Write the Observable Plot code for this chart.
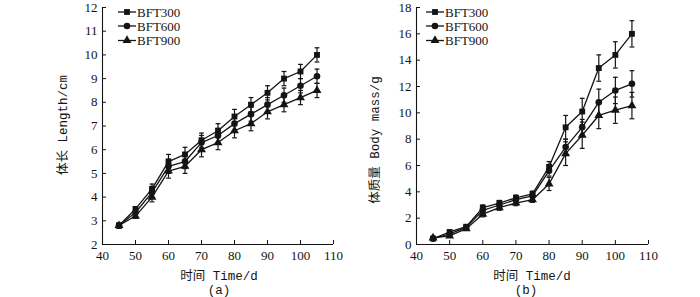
<!DOCTYPE html>
<html><head><meta charset="utf-8">
<script src="https://cdn.jsdelivr.net/npm/d3@7"></script>
<script src="https://cdn.jsdelivr.net/npm/@observablehq/plot@0.6"></script>
<style>
body{margin:0;background:#fff;}
#wrap{display:flex;width:700px;height:297px;overflow:hidden;}
#wrap svg{display:block;}
</style></head><body><div id="wrap"></div>
<script>
// ---- data ----
const days = [45, 50, 55, 60, 65, 70, 75, 80, 85, 90, 95, 100, 105];
const seriesNames = ["BFT300", "BFT600", "BFT900"];
const xTicks = [40, 50, 60, 70, 80, 90, 100, 110];

// (a) body length, cm
const lengthBFT300 = [2.8, 3.5, 4.35, 5.5, 5.8, 6.4, 6.8, 7.4, 7.9, 8.4, 9.0, 9.3, 10.0];
const lengthBFT600 = [2.8, 3.35, 4.2, 5.3, 5.5, 6.3, 6.6, 7.1, 7.5, 7.9, 8.3, 8.7, 9.1];
const lengthBFT900 = [2.8, 3.2, 4.0, 5.1, 5.3, 6.0, 6.3, 6.8, 7.1, 7.6, 7.9, 8.2, 8.5];
const lengthErr300 = [0.1, 0.1, 0.2, 0.3, 0.3, 0.3, 0.3, 0.3, 0.3, 0.3, 0.3, 0.3, 0.3];
const lengthErr600 = [0.1, 0.1, 0.2, 0.3, 0.3, 0.3, 0.3, 0.3, 0.3, 0.3, 0.3, 0.3, 0.3];
const lengthErr900 = [0.1, 0.1, 0.2, 0.3, 0.3, 0.3, 0.3, 0.3, 0.3, 0.3, 0.3, 0.3, 0.3];
const lengthTicks = [2, 3, 4, 5, 6, 7, 8, 9, 10, 11, 12];

// (b) body mass, g
const massBFT300 = [0.45, 0.95, 1.35, 2.8, 3.15, 3.55, 3.85, 5.9, 8.9, 10.1, 13.4, 14.4, 16.0];
const massBFT600 = [0.45, 0.8, 1.3, 2.6, 3.0, 3.4, 3.7, 5.6, 7.4, 8.9, 10.8, 11.7, 12.2];
const massBFT900 = [0.5, 0.65, 1.2, 2.3, 2.8, 3.15, 3.4, 4.6, 6.9, 8.3, 9.8, 10.2, 10.55];
const massErr300 = [0.1, 0.15, 0.15, 0.2, 0.2, 0.2, 0.2, 0.4, 0.9, 1.0, 1.0, 1.0, 1.0];
const massErr600 = [0.1, 0.15, 0.15, 0.2, 0.2, 0.2, 0.2, 0.4, 0.6, 0.6, 1.0, 1.0, 1.0];
const massErr900 = [0.1, 0.1, 0.1, 0.2, 0.2, 0.2, 0.2, 0.5, 0.9, 1.0, 1.0, 1.0, 1.0];
const massTicks = [0, 2, 4, 6, 8, 10, 12, 14, 16, 18];

// ---- helpers ----
const INK = "#141414";
const NUM_FONT = "'Liberation Serif', 'Times New Roman', serif";
const LABEL_FONT = "'Liberation Mono', 'Noto Sans CJK SC', monospace";
const symbols = ["square", "circle", "triangle"];
const d3Symbols = [d3.symbolSquare, d3.symbolCircle, d3.symbolTriangle];
const R = 3.3;
const cap = {draw(ctx, size) { const w = Math.sqrt(size / Math.PI); ctx.moveTo(-w, 0); ctx.lineTo(w, 0); }};

function rowsOf(vals, errs) {
  return seriesNames.flatMap((s, i) => days.map((d, j) => ({day: d, series: s, value: vals[i][j], err: errs[i][j]})));
}

function panel({rows, yDomain, yTicks, yLabel, tag, legendX, yLabelPos, xLabelX, tagX}) {
  const W = 350, H = 297;
  const opts = {
    width: W, height: H,
    marginLeft: yLabelPos.ml, marginRight: yLabelPos.mr, marginTop: 7, marginBottom: 53,
    x: {domain: [40, 110]},
    y: {domain: yDomain},
    symbol: {domain: seriesNames, range: symbols},
    style: {fontFamily: NUM_FONT, fontSize: "13px", color: INK, background: "white", overflow: "visible"},
    marks: [
      Plot.axisX({ticks: xTicks, tickSize: -4, tickPadding: 10, label: null, fontSize: 13}),
      Plot.axisY({ticks: yTicks, tickSize: -4, tickPadding: 9, label: null, fontSize: 13}),
      Plot.ruleX([40], {stroke: INK, strokeWidth: 1.1}),
      Plot.ruleY([yDomain[0]], {stroke: INK, strokeWidth: 1.1}),
      Plot.ruleX(rows, {x: "day", y1: d => d.value - d.err, y2: d => d.value + d.err, stroke: INK, strokeWidth: 1.2}),
      Plot.dot(rows, {x: "day", y: d => d.value - d.err, symbol: cap, r: 2.4, stroke: INK, strokeWidth: 1.2}),
      Plot.dot(rows, {x: "day", y: d => d.value + d.err, symbol: cap, r: 2.4, stroke: INK, strokeWidth: 1.2}),
      Plot.line(rows, {x: "day", y: "value", z: "series", stroke: INK, strokeWidth: 1.3}),
      Plot.dot(rows, {x: "day", y: "value", symbol: "series", fill: INK, stroke: "none", r: R})
    ]
  };
  const svg = Plot.plot(opts);
  const g = d3.select(svg).append("g");
  // legend
  const rowY = [12, 26, 40.5];
  seriesNames.forEach((s, i) => {
    g.append("line").attr("x1", legendX).attr("x2", legendX + 18).attr("y1", rowY[i]).attr("y2", rowY[i])
      .attr("stroke", INK).attr("stroke-width", 1.3);
    g.append("path").attr("d", d3.symbol(d3Symbols[i], R * R * Math.PI)())
      .attr("transform", `translate(${legendX + 9},${rowY[i]})`).attr("fill", INK);
    g.append("text").attr("x", legendX + 19).attr("y", rowY[i]).attr("dy", "0.35em")
      .attr("text-anchor", "start")
      .attr("font-family", NUM_FONT).attr("font-size", 13).attr("fill", INK).text(s);
  });
  // y label
  g.append("text").attr("transform", `translate(${yLabelPos.x},${yLabelPos.y}) rotate(-90)`)
    .attr("text-anchor", "middle").attr("dy", "0.35em")
    .attr("font-family", LABEL_FONT).attr("font-size", 12.5).attr("fill", INK).text(yLabel);
  // x label
  g.append("text").attr("x", xLabelX).attr("y", 276).attr("text-anchor", "middle").attr("dy", "0.35em")
    .attr("font-family", LABEL_FONT).attr("font-size", 12.5).attr("fill", INK).text("时间 Time/d");
  g.append("text").attr("x", tagX).attr("y", 290).attr("text-anchor", "middle").attr("dy", "0.35em")
    .attr("font-family", LABEL_FONT).attr("font-size", 12.5).attr("fill", INK).text(tag);
  return svg;
}

const wrap = document.getElementById("wrap");
wrap.appendChild(panel({
  rows: rowsOf([lengthBFT300, lengthBFT600, lengthBFT900], [lengthErr300, lengthErr600, lengthErr900]),
  yDomain: [2, 12], yTicks: lengthTicks, yLabel: "体长 Length/cm", tag: "(a)",
  legendX: 118, yLabelPos: {x: 63, y: 125, ml: 102, mr: 17}, xLabelX: 219, tagX: 219
}));
wrap.appendChild(panel({
  rows: rowsOf([massBFT300, massBFT600, massBFT900], [massErr300, massErr600, massErr900]),
  yDomain: [0, 18], yTicks: massTicks, yLabel: "体质量 Body mass/g", tag: "(b)",
  legendX: 76, yLabelPos: {x: 25, y: 140, ml: 66, mr: 52}, xLabelX: 182, tagX: 176
}));
</script></body></html>
